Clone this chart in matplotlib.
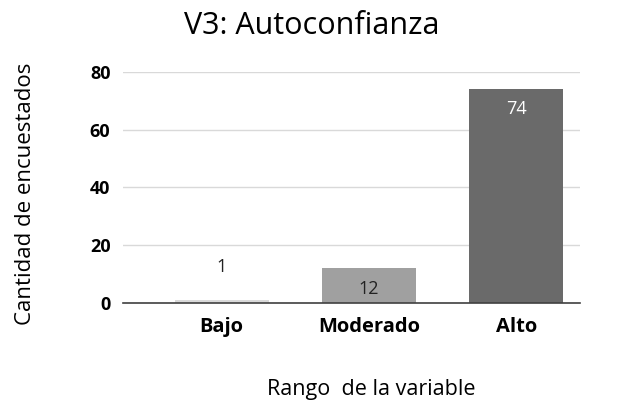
import matplotlib.pyplot as plt

categorias = ['Bajo', 'Moderado', 'Alto']
valores = [1, 12, 74]
colores = ['#d9d9d9', '#a0a0a0', '#6a6a6a']
yticks = [0, 20, 40, 60, 80]

plt.rcParams['font.family'] = ['Open Sans', 'DejaVu Sans']

fig = plt.figure(figsize=(6.18, 4.04), dpi=100)
ax = fig.add_axes([0.199, 0.25, 0.739, 0.572])

x = range(len(categorias))
bars = ax.bar(x, valores, width=0.64, color=colores, zorder=3)

for i, (b, v) in enumerate(zip(bars, valores)):
    if v < 5:
        ax.text(b.get_x() + b.get_width() / 2, v + 11.5, str(v), ha='center', va='center',
                fontsize=13, color='#222222')
    else:
        ax.text(b.get_x() + b.get_width() / 2, v - 7, str(v), ha='center', va='center',
                fontsize=13, color='white' if i == 2 else '#222222')

ax.set_xlim(-0.67, 2.43)
ax.set_ylim(0, 80)
ax.set_yticks(yticks)
ax.set_xticks(list(x))
ax.set_xticklabels(categorias, fontsize=14.5, fontweight='bold')
for lab in ax.get_yticklabels():
    lab.set_fontweight('bold')
    lab.set_fontsize(13)

ax.grid(axis='y', color='#d9d9d9', linewidth=1, zorder=0)
for s in ['top', 'right', 'left']:
    ax.spines[s].set_visible(False)
ax.spines['bottom'].set_color('#404040')
ax.spines['bottom'].set_linewidth(1.2)
ax.spines['bottom'].set_zorder(4)
ax.tick_params(length=0)
ax.tick_params(axis='y', pad=9)
ax.tick_params(axis='x', pad=10)

fig.text(0.505, 0.935, 'V3: Autoconfianza', ha='center', va='center', fontsize=22)
fig.text(0.6, 0.035, 'Rango  de la variable', ha='center', va='center', fontsize=15.5)
fig.text(0.042, 0.52, 'Cantidad de encuestados', ha='center', va='center', fontsize=16,
         rotation=90)

fig.savefig('out.png', dpi=100)
